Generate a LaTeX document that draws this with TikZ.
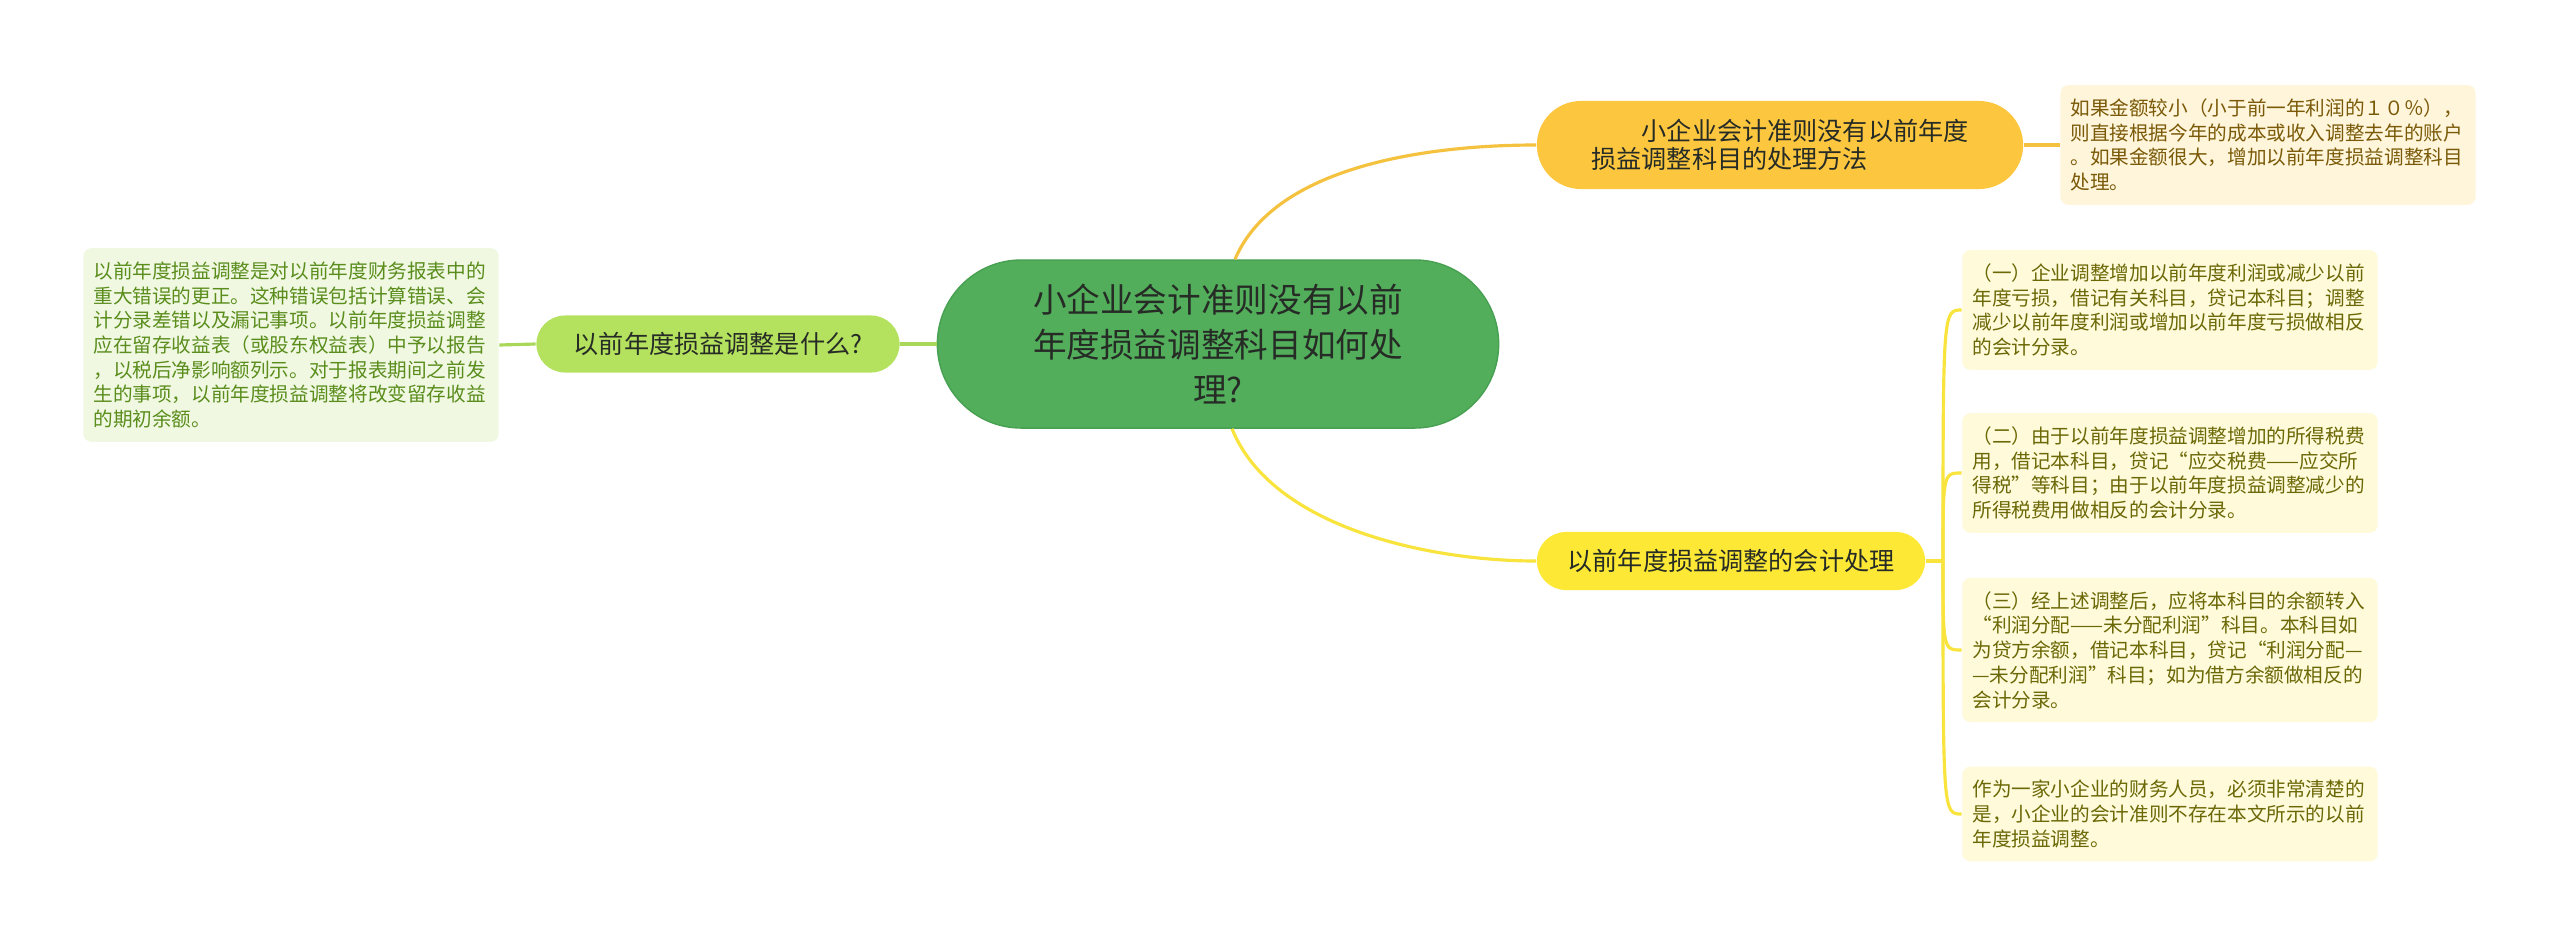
\documentclass[tikz,border=0pt]{standalone}
\usepackage{fontspec}
\setmainfont{Noto Sans CJK SC}

\definecolor{rootgreen}{HTML}{52AE5B}
\definecolor{rootedge}{HTML}{48A052}
\definecolor{darktext}{HTML}{262B26}
\definecolor{methodorange}{HTML}{FCC73F}
\definecolor{methodline}{HTML}{F4C23F}
\definecolor{methodfill}{HTML}{FFF5DA}
\definecolor{methodtext}{HTML}{7A5A08}
\definecolor{whatgreen}{HTML}{B4E15E}
\definecolor{whatline}{HTML}{A9D758}
\definecolor{whatfill}{HTML}{F0F8E2}
\definecolor{whattext}{HTML}{5A8D1C}
\definecolor{dealyellow}{HTML}{FDE935}
\definecolor{dealline}{HTML}{F8E43D}
\definecolor{dealfill}{HTML}{FFFADA}
\definecolor{dealtext}{HTML}{6B6806}

\begin{document}
\begin{tikzpicture}[x=0.01cm,y=-0.01cm,
  mainbox/.style={inner sep=0pt, text=darktext, align=center,
    font=\fontsize{7.15pt}{8pt}\selectfont},
  note/.style={rounded corners=0.08cm, inner xsep=0.1cm, inner ysep=0.135cm,
    text width=3.95cm, align=left, font=\fontsize{5.58pt}{7.03pt}\selectfont},
  link/.style={line width=0.9pt}]
% Page with the margins of the map
\fill[white] (0,0) rectangle (2560,945);
% Central topic
\node[mainbox, fill=rootgreen, draw=rootedge, rounded corners=0.84cm,
  minimum width=5.61cm, minimum height=1.68cm,
  font=\fontsize{9.56pt}{12.66pt}\selectfont] (root) at (1218,344)
  {小企业会计准则没有以前\\年度损益调整科目如何处\\理?};
% Upper right branch and its note
\node[mainbox, fill=methodorange, rounded corners=0.44cm, align=left,
  minimum width=4.86cm, minimum height=0.88cm] (method) at (1780,145)
  {　　小企业会计准则没有以前年度\\损益调整科目的处理方法};
\node[note, fill=methodfill, text=methodtext] (methodnote) at (2268,145)
  {如果金额较小（小于前一年利润的１０％），\\则直接根据今年的成本或收入调整去年的账户\\。如果金额很大，增加以前年度损益调整科目\\处理。};
% Left branch and its note
\node[mainbox, fill=whatgreen, rounded corners=0.285cm,
  minimum width=3.63cm, minimum height=0.57cm] (what) at (718,344)
  {以前年度损益调整是什么?};
\node[note, fill=whatfill, text=whattext] (whatnote) at (291,345)
  {以前年度损益调整是对以前年度财务报表中的\\重大错误的更正。这种错误包括计算错误、会\\计分录差错以及漏记事项。以前年度损益调整\\应在留存收益表（或股东权益表）中予以报告\\，以税后净影响额列示。对于报表期间之前发\\生的事项，以前年度损益调整将改变留存收益\\的期初余额。};
% Lower right branch and its four notes
\node[mainbox, fill=dealyellow, rounded corners=0.29cm,
  minimum width=3.88cm, minimum height=0.58cm] (deal) at (1731,561)
  {以前年度损益调整的会计处理};
\node[note, fill=dealfill, text=dealtext] (d1) at (2170,310)
  {（一）企业调整增加以前年度利润或减少以前\\年度亏损，借记有关科目，贷记本科目；调整\\减少以前年度利润或增加以前年度亏损做相反\\的会计分录。};
\node[note, fill=dealfill, text=dealtext] (d2) at (2170,473)
  {（二）由于以前年度损益调整增加的所得税费\\用，借记本科目，贷记“应交税费——应交所\\得税”等科目；由于以前年度损益调整减少的\\所得税费用做相反的会计分录。};
\node[note, fill=dealfill, text=dealtext] (d3) at (2170,650)
  {（三）经上述调整后，应将本科目的余额转入\\“利润分配——未分配利润”科目。本科目如\\为贷方余额，借记本科目，贷记“利润分配—\\—未分配利润”科目；如为借方余额做相反的\\会计分录。};
\node[note, fill=dealfill, text=dealtext] (d4) at (2170,814)
  {作为一家小企业的财务人员，必须非常清楚的\\是，小企业的会计准则不存在本文所示的以前\\年度损益调整。};
% Curves from the central topic
\draw[link, methodline] ([xshift=0.17cm]root.north) .. controls (1275,165) and (1430,145) .. (method.west);
\draw[link, dealline] ([xshift=0.14cm]root.south) .. controls (1272,528) and (1430,561) .. (deal.west);
\draw[link, whatline] (root.west) -- (what.east);
% Lines to the notes
\draw[link, whatline] (what.west) -- (whatnote.east);
\draw[link, methodline] (method.east) -- (methodnote.west);
\coordinate (fork) at (1943,561);
\draw[link, dealline] (deal.east) -- (fork);
\foreach \n in {d1,d2,d3,d4}
  \draw[link, dealline] (fork) .. controls (fork |- \n) and (fork |- \n) .. (\n.west);
\end{tikzpicture}
\end{document}
